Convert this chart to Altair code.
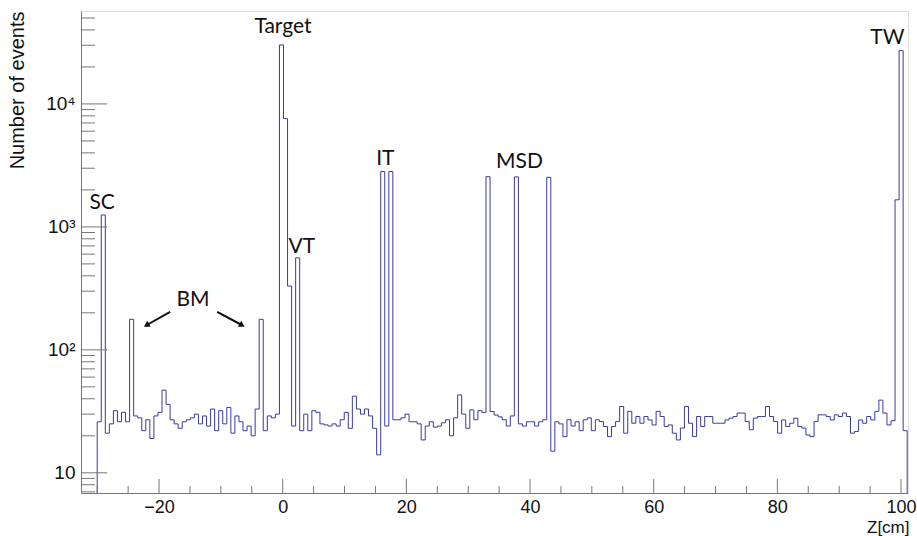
import altair as alt
import pandas as pd

# ---------------- data ----------------
X_START = -30.0
X_END = 101.0
counts = [
    26, 1250, 21, 25, 32, 26, 31, 26, 177, 29,
    28, 22, 27, 19, 29, 31, 47, 36, 27, 25,
    23, 26, 27, 28, 30, 25, 29, 24, 33, 22,
    32, 25, 34, 21, 29, 26, 22, 24, 20, 33,
    177, 22, 29, 28, 30, 30200, 7600, 330, 24, 560,
    22, 30, 22, 32, 31, 25, 24.5, 24, 25, 24,
    27, 31, 23, 42, 33, 30, 33, 29, 23, 14,
    2820, 24, 2820, 27, 27, 28, 30, 26, 26, 25,
    18.5, 24, 26, 23.5, 24, 25.5, 27, 20, 28, 43,
    30, 23, 32.5, 27, 32, 31, 2560, 31.5, 29.5, 28.5,
    27, 24, 29, 2550, 25, 24, 26, 26, 24, 26,
    27, 2530, 15, 26, 25, 19.7, 27, 24, 26, 22,
    27, 28, 22, 27, 26.1, 23.8, 19.7, 23.8, 26.1, 34.6,
    21, 31.6, 25.3, 28.7, 25.3, 28.7, 26.9, 24.5, 31.6, 28.7,
    23.8, 24.5, 21, 18.5, 23.1, 34.6, 25.3, 19.7, 28.7, 23.8,
    28.7, 28.7, 25.3, 25.3, 25.3, 26.9, 27.8, 28.7, 30.6, 30.6,
    26.1, 22.4, 27.8, 28.7, 28.7, 34.6, 28.7, 26.1, 21, 26.9,
    23.8, 25.3, 27.8, 23.8, 23.1, 20.3, 19.7, 26.1, 29.6, 29.6,
    28.7, 26.9, 29.6, 28.7, 30.6, 28.7, 21, 21.7, 26.9, 25.3,
    28.7, 26.9, 31.6, 39, 30.6, 24.5, 26.5, 1660, 27100, 22,
]
UNDERFLOW = 1  # empty region outside the histogram

x_major = [-20, 0, 20, 40, 60, 80, 100]
x_minor = [-30, -25, -15, -10, -5, 5, 10, 15, 25, 30, 35, 45, 50, 55,
           65, 70, 75, 85, 90, 95]
y_major = [10, 100, 1000, 10000]
y_major_labels = ["10", "10²", "10³", "10⁴"]
y_minor = [7, 8, 9, 20, 30, 40, 50, 60, 70, 80, 90,
           200, 300, 400, 500, 600, 700, 800, 900,
           2000, 3000, 4000, 5000, 6000, 7000, 8000, 9000,
           20000, 30000, 40000, 50000]

ann_text = ["SC", "Target", "VT", "IT", "MSD", "TW", "BM"]
ann_x = [-29.2, 0.05, 3.1, 16.6, 38.3, 97.8, -14.5]
ann_y = [1570, 42300, 690, 3570, 3370, 34400, 255]

arrow_x0 = [-18.2, -10.6]
arrow_y0 = [204, 204]
arrow_x1 = [-21.9, -6.7]
arrow_y1 = [160, 160]

# ---------------- build tables ----------------
nb = len(counts)
bw = (X_END - X_START) / nb
pts = [{"idx": 0, "x": X_START, "y": UNDERFLOW}]
for i, c in enumerate(counts):
    pts.append({"idx": i + 1, "x": X_START + bw * i, "y": c})
pts.append({"idx": nb + 1, "x": X_END, "y": UNDERFLOW})
hist_df = pd.DataFrame(pts)

W, H = 827, 482
AXC = "#777777"
LINE = "#3a3aa0"

xscale = alt.Scale(domain=[-32.62, 101.13], nice=False, zero=False)
yscale = alt.Scale(type="log", domain=[6.85, 57000], nice=False)

label_expr = " : ".join(
    f"datum.value == {v} ? '{l}'" for v, l in zip(y_major, y_major_labels)
) + " : ''"

xaxis = alt.Axis(
    values=x_major, ticks=False, grid=False, domain=True, domainColor=AXC,
    labelFontSize=18, labelFont="Liberation Sans", labelColor="#111111",
    labelPadding=5, labelFlush=False,
    title="Z[cm]", titleFont="Liberation Sans", titleFontSize=17,
    titleFontWeight="normal", titleColor="#111111",
    titleX=W + 1, titleY=34, titleAlign="right", titleBaseline="middle")
yaxis = alt.Axis(
    values=y_major, labelExpr=label_expr, ticks=False, grid=False,
    domain=True, domainColor=AXC,
    labelFontSize=19, labelFont="Liberation Sans", labelColor="#111111",
    labelPadding=6,
    title="Number of events", titleFont="Liberation Sans", titleFontSize=20,
    titleFontWeight="normal", titleColor="#111111",
    titleAngle=270, titleX=-64, titleY=0, titleAlign="right",
    titleBaseline="middle")


def X(field):
    return alt.X(field, scale=xscale, axis=xaxis)


def Y(field):
    return alt.Y(field, scale=yscale, axis=yaxis)


hist = alt.Chart(hist_df).mark_line(
    interpolate="step-after", color=LINE, strokeWidth=1, clip=True
).encode(x=X("x:Q"), y=Y("y:Q"), order="idx:Q")

ymaj = alt.Chart(pd.DataFrame({"y": y_major})).mark_rule(color=AXC, strokeWidth=1).encode(
    y=Y("y:Q"), x=alt.value(0), x2=alt.value(26))
ymin = alt.Chart(pd.DataFrame({"y": y_minor})).mark_rule(color=AXC, strokeWidth=1).encode(
    y=Y("y:Q"), x=alt.value(0), x2=alt.value(14))
xmaj = alt.Chart(pd.DataFrame({"x": x_major})).mark_rule(color=AXC, strokeWidth=1).encode(
    x=X("x:Q"), y=alt.value(H), y2=alt.value(H - 14))
xmin = alt.Chart(pd.DataFrame({"x": x_minor})).mark_rule(color=AXC, strokeWidth=1).encode(
    x=X("x:Q"), y=alt.value(H), y2=alt.value(H - 7))

ann = alt.Chart(pd.DataFrame({"t": ann_text, "x": ann_x, "y": ann_y})).mark_text(
    font="Lato", fontSize=21, color="#111111", align="center", baseline="middle"
).encode(x=X("x:Q"), y=Y("y:Q"), text="t:N")

arrow_layers = []
angles = [240, 120]
for k in range(len(arrow_x0)):
    seg = pd.DataFrame({"x": [arrow_x0[k], arrow_x1[k]], "y": [arrow_y0[k], arrow_y1[k]]})
    arrow_layers.append(alt.Chart(seg).mark_line(color="#111111", strokeWidth=2).encode(
        x=X("x:Q"), y=Y("y:Q")))
    head = pd.DataFrame({"x": [arrow_x1[k]], "y": [arrow_y1[k]]})
    arrow_layers.append(alt.Chart(head).mark_point(
        shape="triangle", filled=True, size=45, angle=angles[k], color="#111111", opacity=1
    ).encode(x=X("x:Q"), y=Y("y:Q")))

chart = alt.layer(hist, ymaj, ymin, xmaj, xmin, ann, *arrow_layers).properties(
    width=W, height=H,
    autosize=alt.AutoSizeParams(type="none"),
    padding={"left": 81, "top": 11, "right": 9, "bottom": 43},
).configure_view(stroke=AXC, strokeWidth=1).configure(background="white")

chart.save("out.html", embed_options={"renderer": "svg", "actions": False})
